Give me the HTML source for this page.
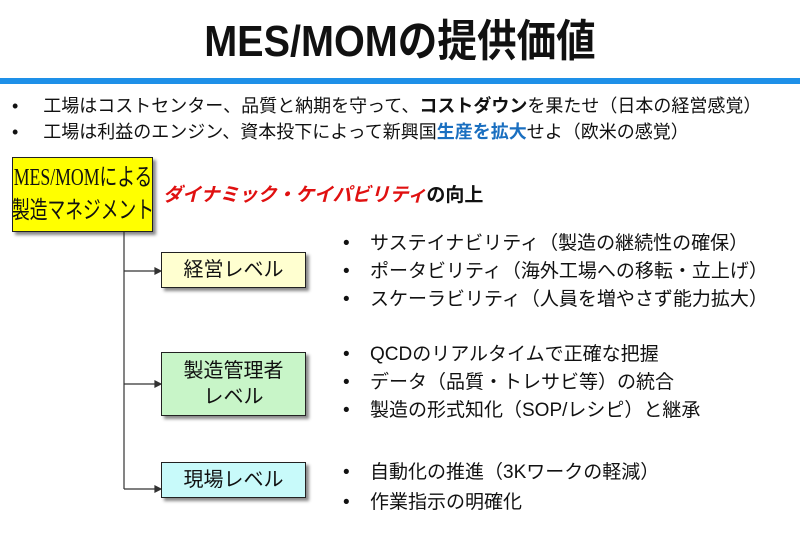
<!DOCTYPE html>
<html><head><meta charset="utf-8"><style>
body{margin:0;width:800px;height:535px;background:#fff;position:relative;overflow:hidden;font-family:"Liberation Sans","Noto Sans CJK JP",sans-serif;color:#111}
.a{position:absolute;white-space:nowrap}
.title{left:0;width:800px;text-align:center;top:14px;font-size:44px;font-weight:bold;line-height:56px;transform:scaleX(.9);transform-origin:center}
.bar{left:0;top:78px;width:800px;height:6px;background:#1e90e8}
.b{font-size:18px;line-height:24px}
.box{position:absolute;box-sizing:border-box;white-space:nowrap;border:1.5px solid #222;box-shadow:3px 3px 3px #888;display:flex;align-items:center;justify-content:center;text-align:center;font-size:20px;line-height:26px}
.r{font-size:19px;line-height:24px;left:343px}
.r span{display:inline-block;width:27px}
</style></head><body>
<div class="a title">MES/MOMの提供価値</div>
<div class="a bar"></div>
<div class="a b" style="left:12px;top:94px">•&nbsp;&nbsp;&nbsp;&nbsp;&nbsp;工場はコストセンター、品質と納期を守って、<b>コストダウン</b>を果たせ（日本の経営感覚）</div>
<div class="a b" style="left:12px;top:120px">•&nbsp;&nbsp;&nbsp;&nbsp;&nbsp;工場は利益のエンジン、資本投下によって新興国<b style="color:#1a6fc0">生産を拡大</b>せよ（欧米の感覚）</div>
<div class="box" style="left:12px;top:157px;width:141px;height:75px;background:#ffff00;font-size:24px;line-height:33px;font-family:'Liberation Serif','Noto Sans CJK JP',serif"><span style="display:inline-block;transform:scaleX(.74)">MES/MOMによる<br>製造マネジメント</span></div>
<div class="a" style="left:163px;top:180px;font-size:19px;font-weight:bold"><i style="color:#e01010">ダイナミック・ケイパビリティ</i>の向上</div>
<svg class="a" style="left:0;top:0" width="800" height="535">
<g stroke="#333" stroke-width="1.2" fill="#333">
<line x1="124" y1="232" x2="124" y2="489"/>
<line x1="124" y1="271" x2="156" y2="271"/><path d="M161 271 l-6 -3 v6z"/>
<line x1="124" y1="384" x2="156" y2="384"/><path d="M161 384 l-6 -3 v6z"/>
<line x1="124" y1="489" x2="156" y2="489"/><path d="M161 489 l-6 -3 v6z"/>
</g></svg>
<div class="box" style="left:161px;top:252px;width:145px;height:36px;background:#ffffd0">経営レベル</div>
<div class="box" style="left:161px;top:352px;width:145px;height:64px;background:#c8f5c8">製造管理者<br>レベル</div>
<div class="box" style="left:161px;top:462px;width:145px;height:36px;background:#c8fafa">現場レベル</div>
<div class="a r" style="top:232px"><span>•</span>サステイナビリティ（製造の継続性の確保）</div>
<div class="a r" style="top:260px"><span>•</span>ポータビリティ（海外工場への移転・立上げ）</div>
<div class="a r" style="top:288px"><span>•</span>スケーラビリティ（人員を増やさず能力拡大）</div>
<div class="a r" style="top:343px"><span>•</span>QCDのリアルタイムで正確な把握</div>
<div class="a r" style="top:371px"><span>•</span>データ（品質・トレサビ等）の統合</div>
<div class="a r" style="top:399px"><span>•</span>製造の形式知化（SOP/レシピ）と継承</div>
<div class="a r" style="top:461px"><span>•</span>自動化の推進（3Kワークの軽減）</div>
<div class="a r" style="top:491px"><span>•</span>作業指示の明確化</div>
</body></html>
